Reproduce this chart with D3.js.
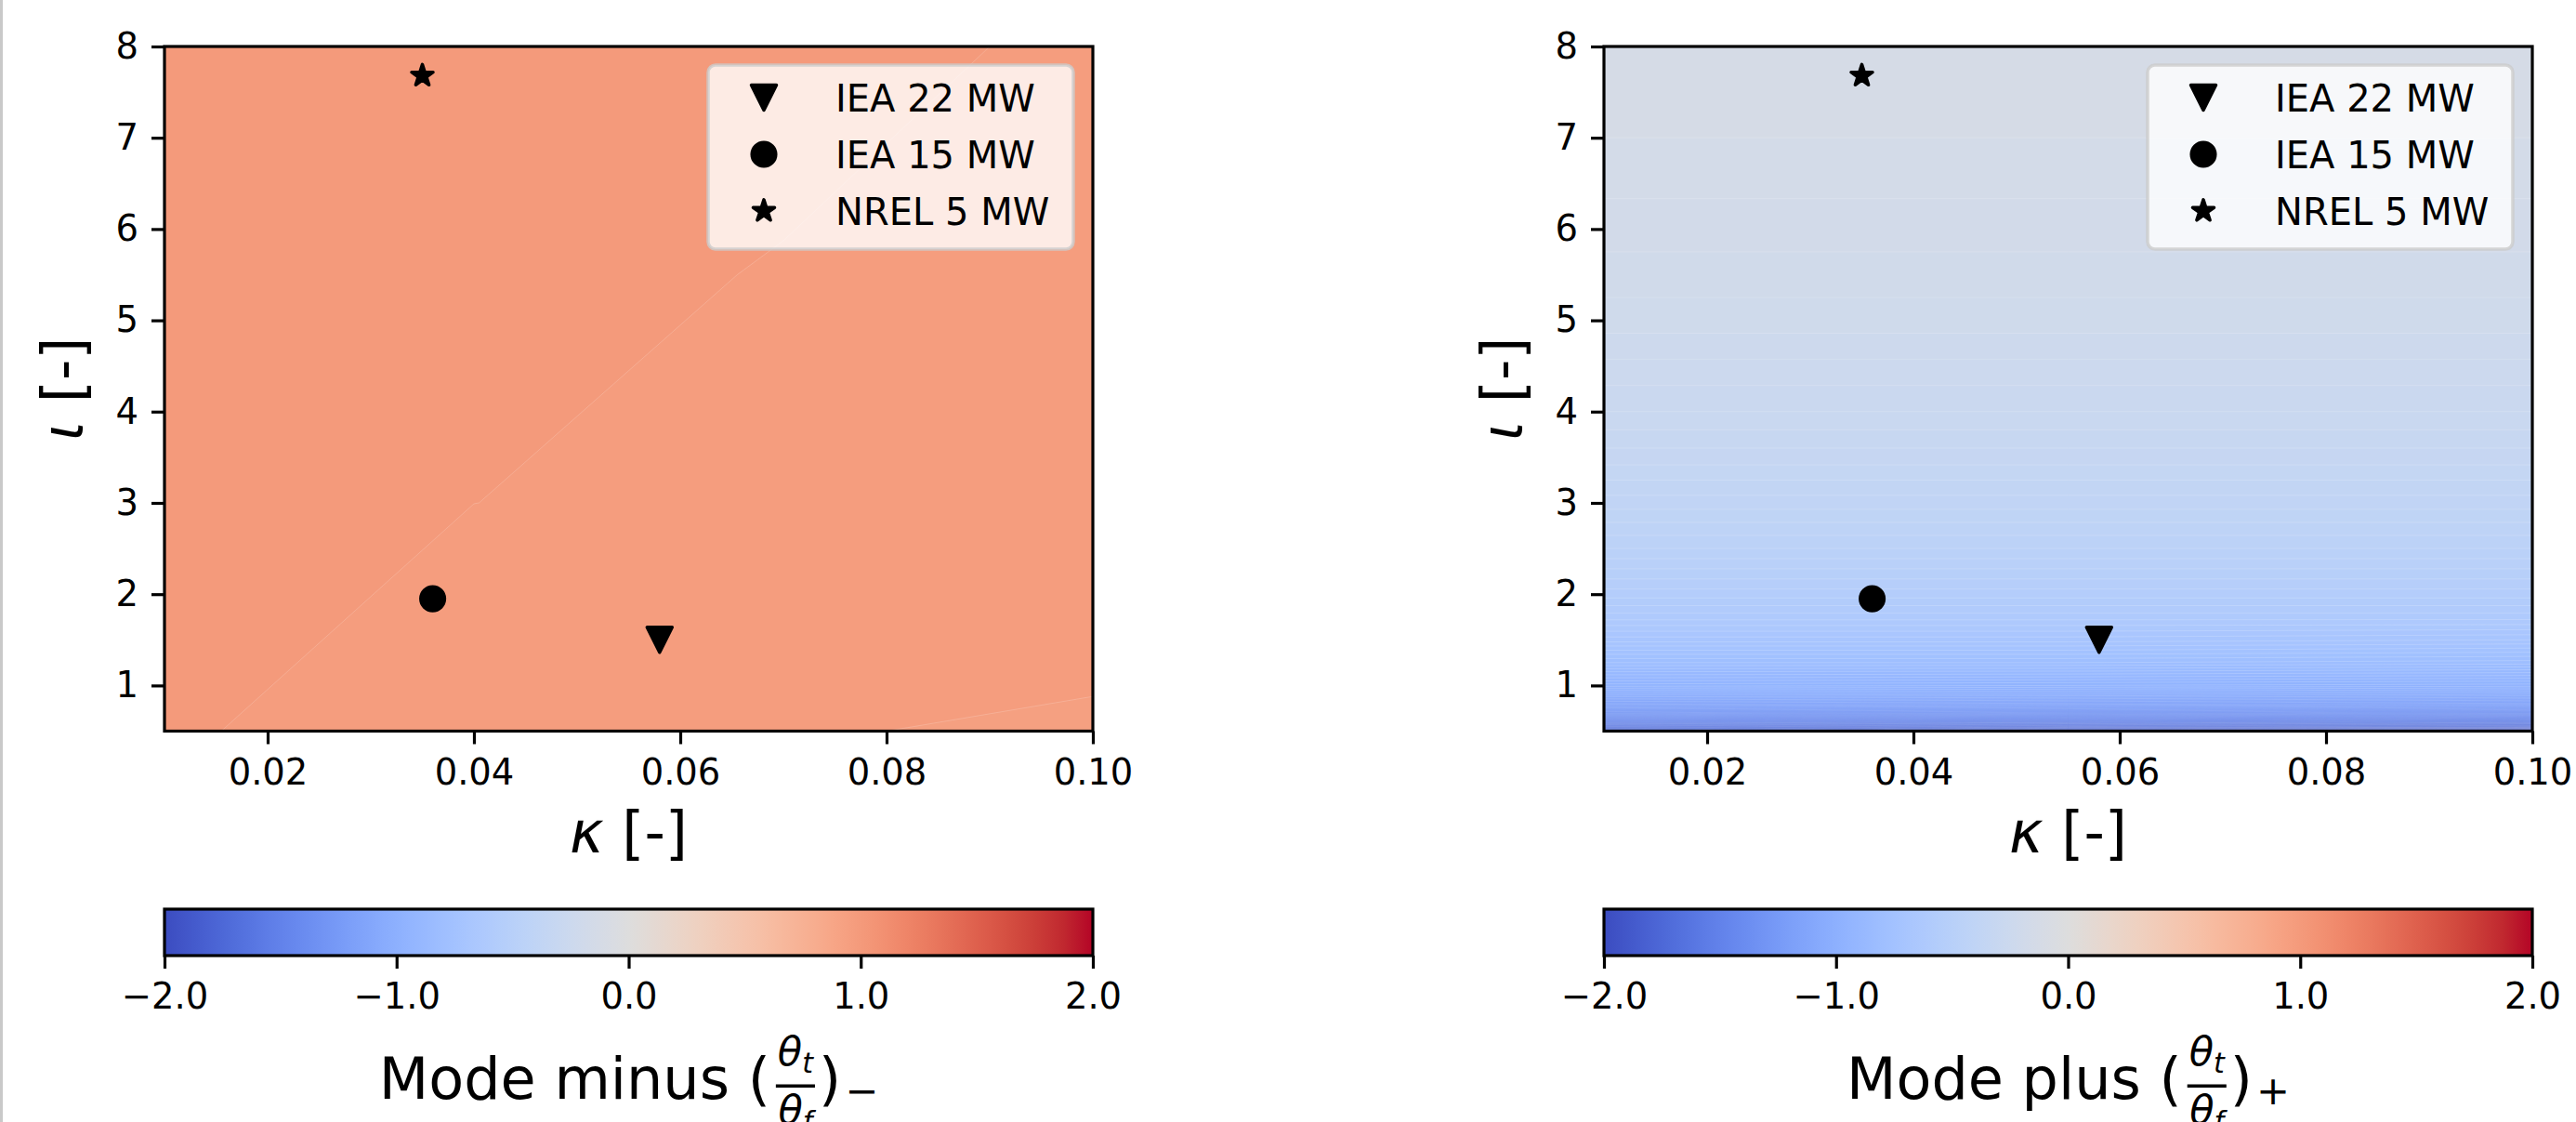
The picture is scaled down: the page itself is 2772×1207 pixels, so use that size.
<!DOCTYPE html>
<html>
<head>
<meta charset="utf-8">
<title>Mode minus / Mode plus</title>
<script src="https://d3js.org/d3.v7.min.js"></script>
<style>
  body { margin: 0; background: #fff; }
  svg { display: block; font-family: "DejaVu Sans", sans-serif; }
</style>
</head>
<body>
<script>
// ---- data ----
var turbineNames = ["IEA 22 MW", "IEA 15 MW", "NREL 5 MW"];
var turbineKappa = [0.058, 0.036, 0.035];
var turbineIota = [1.5, 1.95, 7.68];
var turbineMarker = ["triangle", "circle", "star"];

// mode minus field (rows = iota, cols = kappa)
var kappaGridMinus = [0.01, 0.04, 0.07, 0.10];
var iotaGridMinus = [0.5, 3.0, 5.5, 8.0];
var valuesMinus = [
  [0.991, 0.9583, 0.9568, 0.9514],
  [1.003, 0.9851, 0.979, 0.9751],
  [1.003, 0.997, 0.9829, 0.979],
  [1.003, 1.000, 0.997, 0.979]
];
var levelsMinus = [0.925, 0.955, 0.985, 1.015];

// mode plus field (rows = iota, cols = kappa)
var kappaGridPlus = [0.01, 0.055, 0.10];
var iotaGridPlus = [0.5, 0.55, 0.6, 0.7, 0.8, 0.9, 1.0, 1.25, 1.5, 1.75, 2.0, 2.5, 3.0, 3.5, 4.0, 5.0, 6.0, 7.0, 8.0];
var valuesPlus = [
  [-1.80, -1.95, -2.10],
  [-1.66, -1.72, -1.76],
  [-1.52, -1.56, -1.60],
  [-1.32, -1.35, -1.38],
  [-1.17, -1.19, -1.21],
  [-1.05, -1.06, -1.08],
  [-0.95, -0.96, -0.97],
  [-0.80, -0.80, -0.81],
  [-0.69, -0.69, -0.70],
  [-0.61, -0.61, -0.61],
  [-0.55, -0.55, -0.55],
  [-0.46, -0.46, -0.46],
  [-0.39, -0.39, -0.39],
  [-0.33, -0.33, -0.33],
  [-0.28, -0.28, -0.28],
  [-0.21, -0.21, -0.21],
  [-0.17, -0.17, -0.17],
  [-0.14, -0.14, -0.14],
  [-0.12, -0.12, -0.12]
];
var levelsPlus = d3.range(-2, 2.0001, 0.02);

var xTicks = [0.02, 0.04, 0.06, 0.08, 0.10];
var yTicks = [1, 2, 3, 4, 5, 6, 7, 8];
var cbarTicks = [-2, -1, 0, 1, 2];

// coolwarm anchors
var coolwarm = [
  [59,76,192],[68,90,204],[77,104,215],[87,117,225],[98,130,234],[108,142,241],
  [119,154,247],[130,165,251],[141,176,254],[152,185,255],[163,194,255],[174,201,253],
  [184,208,249],[194,213,244],[204,217,238],[213,219,230],[221,221,221],[229,216,209],
  [236,211,197],[241,204,185],[245,196,173],[247,187,160],[247,177,148],[247,166,135],
  [244,154,123],[241,141,111],[236,127,99],[229,112,88],[222,96,77],[213,80,66],
  [203,62,56],[192,40,47],[180,4,38]
];
var cwInterp = d3.piecewise(d3.interpolateRgb, coolwarm.map(function(c) { return d3.rgb(c[0], c[1], c[2]); }));
var norm = d3.scaleLinear().domain([-2, 2]).range([0, 1]).clamp(true);
function cmap(v) { return cwInterp(norm(v)); }

var width = 2772, height = 1207;
var svg = d3.select("body").append("svg")
  .attr("width", width)
  .attr("height", height);

svg.append("rect").attr("x", 0).attr("y", 0).attr("width", 3).attr("height", height).attr("fill", "#c9c9c9");

var top0 = 50, bot0 = 786.5, axW = 999;
var tickFont = 38.5, lw = 3.2;

// marker shapes (drawn with a 3.5px edge like matplotlib)
var sym = {
  triangle: "M-13.5,-13.5L13.5,-13.5L0,13.5Z",
  circle: d3.symbol().type(d3.symbolCircle).size(Math.PI * 12.8 * 12.8)(),
  star: d3.symbol().type(d3.symbolStar).size(165)()
};

function drawPanel(id, x0, kGrid, iGrid, vals, levels, cbarWord, cbarSign) {
  var x = d3.scaleLinear().domain([0.01, 0.10]).range([x0, x0 + axW]);
  var y = d3.scaleLinear().domain([0.5, 8]).range([bot0, top0]);

  var g = svg.append("g");
  g.append("clipPath").attr("id", "clip" + id)
    .append("rect").attr("x", x0).attr("y", top0).attr("width", axW).attr("height", bot0 - top0);

  // contour field
  var nx = kGrid.length, ny = iGrid.length;
  var flat = [];
  vals.forEach(function(row) { row.forEach(function(v) { flat.push(v); }); });
  var kIdx = d3.scaleLinear().domain(d3.range(nx)).range(kGrid).clamp(true);
  var iIdx = d3.scaleLinear().domain(d3.range(ny)).range(iGrid).clamp(true);
  var proj = d3.geoTransform({
    point: function(px, py) { this.stream.point(x(kIdx(px - 0.5)), y(iIdx(py - 0.5))); }
  });
  var path = d3.geoPath(proj);
  var bands = d3.contours().size([nx, ny]).thresholds(levels.slice(0, -1))(flat);
  var bandColor = {};
  levels.forEach(function(l, i) { if (i < levels.length - 1) bandColor[i] = cmap((l + levels[i + 1]) / 2); });

  g.append("g").attr("clip-path", "url(#clip" + id + ")")
    .selectAll("path")
    .data(bands)
    .enter()
    .append("path")
    .attr("d", path)
    .attr("fill", function(d, i) { return bandColor[i]; })
    .attr("stroke", "#ffffff")
    .attr("stroke-opacity", 0.18)
    .attr("stroke-width", 1);

  // markers
  g.selectAll(".pt")
    .data(turbineNames)
    .enter()
    .append("path")
    .attr("d", function(d, i) { return sym[turbineMarker[i]]; })
    .attr("transform", function(d, i) { return "translate(" + x(turbineKappa[i]) + "," + y(turbineIota[i]) + ")"; })
    .attr("fill", "#000").attr("stroke", "#000").attr("stroke-width", 3.5).attr("stroke-linejoin", "round");

  // spines
  g.append("rect").attr("x", x0).attr("y", top0).attr("width", axW).attr("height", bot0 - top0)
    .attr("fill", "none").attr("stroke", "#000").attr("stroke-width", lw);

  // axes
  var xa = g.append("g").attr("transform", "translate(0," + bot0 + ")")
    .call(d3.axisBottom(x).tickValues(xTicks).tickFormat(d3.format(".2f")).tickSize(14).tickSizeOuter(0).tickPadding(16));
  var ya = g.append("g").attr("transform", "translate(" + x0 + ",0)")
    .call(d3.axisLeft(y).tickValues(yTicks).tickFormat(d3.format("d")).tickSize(14).tickSizeOuter(0).tickPadding(14));
  [xa, ya].forEach(function(a) {
    a.select(".domain").remove();
    a.attr("font-family", null).attr("font-size", null);
    a.selectAll("line").attr("stroke", "#000").attr("stroke-width", lw);
    a.selectAll("text").attr("fill", "#000").attr("font-size", tickFont);
  });

  // axis labels
  var xl = g.append("text").attr("x", x0 + axW / 2).attr("y", 917)
    .attr("text-anchor", "middle").attr("font-size", 62);
  xl.append("tspan").attr("font-style", "italic").text("κ");
  xl.append("tspan").text(" [-]");
  var yl = g.append("text")
    .attr("transform", "translate(" + (x0 - 88) + "," + ((top0 + bot0) / 2) + ") rotate(-90)")
    .attr("text-anchor", "middle").attr("font-size", 62);
  yl.append("tspan").attr("font-style", "italic").text("ι");
  yl.append("tspan").text(" [-]");

  // legend
  var lgR = x0 + axW - 21, lgW = 393, lgH = 198, lgT = top0 + 20, lgL = lgR - lgW;
  var lg = g.append("g");
  lg.append("rect").attr("x", lgL).attr("y", lgT).attr("width", lgW).attr("height", lgH)
    .attr("rx", 8).attr("fill", "#fff").attr("fill-opacity", 0.8)
    .attr("stroke", "#cccccc").attr("stroke-opacity", 0.8).attr("stroke-width", 3.5);
  var rowY = [35, 96, 157];
  turbineNames.forEach(function(name, i) {
    lg.append("path").attr("d", sym[turbineMarker[i]])
      .attr("transform", "translate(" + (lgL + 60) + "," + (lgT + rowY[i]) + ")")
      .attr("fill", "#000").attr("stroke", "#000").attr("stroke-width", 3.5).attr("stroke-linejoin", "round");
    lg.append("text").attr("x", lgL + 137).attr("y", lgT + rowY[i] + 14.5)
      .attr("font-size", 40).text(name);
  });

  // colorbar
  var cbT = 978, cbH = 50;
  var grad = svg.append("defs").append("linearGradient").attr("id", "grad" + id);
  d3.range(0, 1.0001, 1 / 64).forEach(function(t) {
    grad.append("stop").attr("offset", t).attr("stop-color", cwInterp(t));
  });
  g.append("rect").attr("x", x0).attr("y", cbT).attr("width", axW).attr("height", cbH)
    .attr("fill", "url(#grad" + id + ")").attr("stroke", "#000").attr("stroke-width", lw);
  var cx = d3.scaleLinear().domain([-2, 2]).range([x0, x0 + axW]);
  var ca = g.append("g").attr("transform", "translate(0," + (cbT + cbH) + ")")
    .call(d3.axisBottom(cx).tickValues(cbarTicks).tickFormat(d3.format(".1f")).tickSize(14).tickSizeOuter(0).tickPadding(16));
  ca.select(".domain").remove();
  ca.attr("font-family", null).attr("font-size", null);
  ca.selectAll("line").attr("stroke", "#000").attr("stroke-width", lw);
  ca.selectAll("text").attr("fill", "#000").attr("font-size", tickFont);

  cbarLabel(g, x0 + axW / 2, cbarWord, cbarSign);
}

function cbarLabel(g, cx, word, sign) {
  var base = 1182, F = 62, f1 = 43, f2 = 30;
  var t1 = g.append("text").attr("y", base).attr("font-size", F).text(word + " (");
  var w1 = t1.node().getComputedTextLength();
  var num = g.append("text").attr("y", 1146).attr("font-size", f1).attr("font-style", "italic");
  num.append("tspan").text("θ");
  num.append("tspan").attr("font-size", f2).attr("dy", 8).text("t");
  var den = g.append("text").attr("y", 1209).attr("font-size", f1).attr("font-style", "italic");
  den.append("tspan").text("θ");
  den.append("tspan").attr("font-size", f2).attr("dy", 8).text("f");
  var wn = num.node().getComputedTextLength(), wd = den.node().getComputedTextLength();
  var barW = Math.max(wn, wd) + 4;
  var t3 = g.append("text").attr("y", base).attr("font-size", F).text(")");
  var w3 = t3.node().getComputedTextLength();
  var t4 = g.append("text").attr("y", base + 6).attr("font-size", f1).text(sign);
  var w4 = t4.node().getComputedTextLength();
  var total = w1 + 6 + barW + 4 + w3 + 4 + w4;
  var xx = cx - total / 2;
  t1.attr("x", xx); xx += w1 + 6;
  g.append("rect").attr("x", xx).attr("y", 1166.5).attr("width", barW).attr("height", 3.5).attr("fill", "#000");
  num.attr("x", xx + (barW - wn) / 2);
  den.attr("x", xx + (barW - wd) / 2);
  xx += barW + 4;
  t3.attr("x", xx); xx += w3 + 4;
  t4.attr("x", xx);
}

drawPanel("m", 177, kappaGridMinus, iotaGridMinus, valuesMinus, levelsMinus, "Mode minus", "−");
drawPanel("p", 1726, kappaGridPlus, iotaGridPlus, valuesPlus, levelsPlus, "Mode plus", "+");
</script>
</body>
</html>
